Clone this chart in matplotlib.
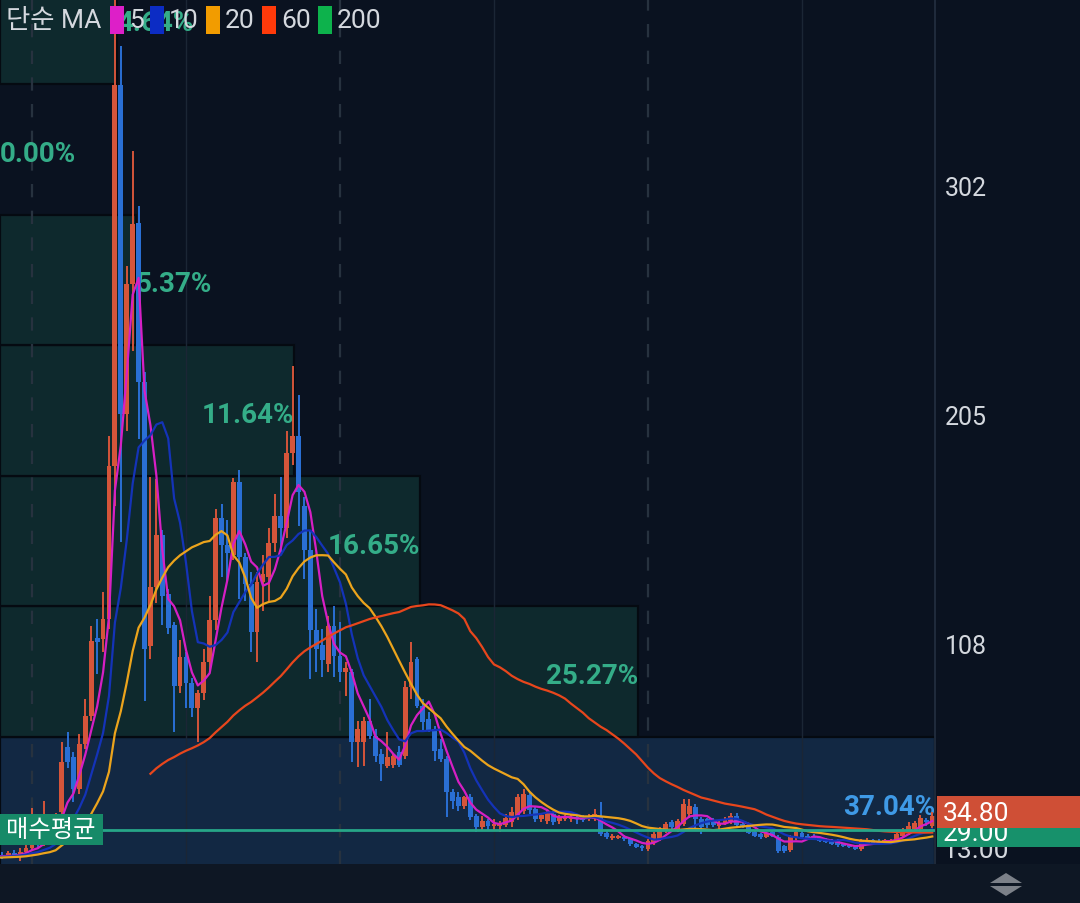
import matplotlib
matplotlib.use("Agg")
import matplotlib.pyplot as plt
import numpy as np
from matplotlib.patches import Rectangle, Polygon

# ---------------- data ----------------
# weekly candles, first visible week 2020-11-30 (index 0)
opens = [18.0, 17.5, 19.0, 18.0, 19.5, 21.0, 24.0, 23.0, 27.0, 26.0,
         36.4, 64.0, 59.7, 46.2, 65.2, 77.1, 110.0, 109.7, 118.2, 183.0,
         344.3, 205.0, 260.0, 286.0, 218.5, 106.7, 131.7, 153.8, 128.8, 115.6,
         89.8, 102.0, 91.0, 80.5, 86.8, 100.0, 117.8, 161.0, 149.5, 145.3,
         176.0, 144.4, 133.0, 112.7, 133.9, 136.0, 150.4, 161.8, 156.7, 188.5,
         195.7, 166.0, 147.4, 113.5, 107.0, 99.1, 115.2, 102.5, 95.7, 95.7,
         66.1, 66.1, 75.0, 68.6, 61.0, 55.9, 56.5, 62.0, 60.2, 89.4,
         101.2, 81.3, 76.0, 71.6, 63.0, 58.9, 45.0, 42.8, 38.9, 42.8,
         34.7, 30.1, 32.6, 30.5, 30.3, 30.9, 32.2, 34.7, 37.0, 43.6,
         37.7, 33.3, 32.6, 35.6, 32.6, 33.5, 33.5, 34.3, 34.0, 33.3,
         33.5, 34.7, 27.5, 25.4, 25.4, 26.0, 25.0, 22.9, 22.0, 20.8,
         23.4, 25.0, 28.4, 32.2, 29.2, 31.3, 35.6, 38.6, 33.5, 33.5,
         33.0, 30.5, 31.3, 32.6, 34.7, 31.3, 30.1, 27.9, 27.0, 25.8,
         27.9, 26.0, 22.0, 20.3, 25.4, 27.5, 26.3, 26.3, 25.4, 25.0,
         24.6, 24.6, 23.0, 22.3, 21.8, 20.8, 23.4, 24.6, 24.2, 23.4,
         23.4, 24.0, 26.3, 27.5, 29.2, 29.2, 33.0, 30.5]
highs = [19.5, 20.0, 20.5, 21.0, 22.5, 38.0, 26.0, 41.0, 29.0, 36.0,
         66.0, 70.3, 62.0, 69.5, 84.3, 115.2, 118.2, 129.6, 195.7, 395.0,
         361.0, 267.7, 316.4, 293.0, 222.8, 178.3, 177.5, 156.0, 131.0, 117.0,
         109.3, 104.0, 93.0, 88.0, 105.5, 128.0, 164.8, 166.9, 160.0, 178.0,
         181.3, 146.0, 138.0, 138.0, 145.3, 156.7, 171.1, 178.3, 197.8, 225.3,
         213.1, 170.0, 155.9, 122.4, 114.0, 119.5, 123.7, 117.0, 100.0, 97.0,
         75.0, 76.7, 84.3, 71.6, 63.0, 70.3, 61.0, 64.4, 92.0, 108.4,
         102.0, 84.3, 78.8, 73.0, 67.4, 60.0, 46.0, 44.9, 43.2, 44.0,
         35.5, 34.7, 33.5, 33.4, 32.6, 35.6, 38.6, 44.0, 46.2, 45.0,
         39.0, 36.0, 37.3, 37.0, 35.0, 35.0, 35.2, 35.0, 35.0, 35.5,
         37.7, 40.7, 28.4, 27.0, 26.8, 26.7, 25.5, 23.2, 22.3, 25.0,
         28.0, 30.0, 32.0, 33.0, 33.5, 41.9, 41.9, 40.0, 34.5, 34.0,
         34.0, 33.0, 34.5, 36.0, 36.0, 32.5, 30.5, 28.4, 27.5, 28.0,
         29.0, 26.8, 22.5, 26.5, 29.0, 28.4, 27.0, 27.0, 26.0, 25.6,
         25.0, 25.0, 23.5, 22.8, 22.2, 25.0, 25.4, 25.2, 25.0, 25.2,
         25.0, 28.0, 29.5, 32.0, 32.6, 35.0, 34.0, 36.5]
lows = [16.5, 16.8, 17.0, 15.6, 18.5, 20.5, 21.0, 22.0, 24.0, 25.0,
        35.0, 55.0, 40.7, 44.0, 63.0, 75.0, 94.9, 104.2, 114.0, 166.0,
        150.8, 197.8, 231.7, 194.4, 83.4, 101.2, 125.0, 115.6, 112.0, 70.3,
        86.8, 80.5, 76.7, 66.1, 84.0, 96.0, 113.5, 136.0, 133.9, 143.0,
        126.6, 126.0, 104.2, 100.0, 121.6, 126.0, 146.6, 146.6, 152.5, 183.4,
        157.6, 135.0, 92.8, 95.7, 93.6, 95.7, 93.6, 91.5, 85.6, 57.6,
        55.5, 55.9, 67.4, 57.6, 49.6, 55.0, 55.0, 55.5, 59.0, 84.3,
        80.5, 70.3, 70.3, 58.0, 57.6, 34.3, 37.7, 36.9, 37.7, 33.0,
        28.0, 28.8, 28.8, 28.4, 28.0, 30.0, 30.0, 33.0, 35.6, 35.6,
        32.0, 32.2, 31.5, 31.0, 31.5, 32.6, 32.2, 31.5, 32.0, 32.6,
        32.6, 26.3, 25.0, 24.6, 24.8, 24.2, 22.0, 21.0, 19.9, 19.9,
        22.5, 24.0, 27.5, 29.0, 28.0, 30.5, 34.0, 29.2, 27.1, 29.5,
        30.0, 29.0, 31.0, 31.5, 30.0, 29.5, 27.0, 25.8, 25.0, 25.4,
        25.8, 19.0, 19.2, 19.6, 24.6, 25.0, 24.6, 24.6, 23.7, 23.4,
        22.5, 21.8, 21.5, 21.0, 20.3, 20.1, 23.0, 22.9, 23.0, 23.0,
        22.9, 23.4, 25.8, 26.8, 28.4, 28.0, 30.5, 29.5]
closes = [17.5, 19.0, 18.0, 19.5, 21.0, 24.0, 23.0, 27.0, 26.0, 34.0,
          57.6, 57.6, 46.2, 65.2, 77.1, 108.8, 108.5, 118.2, 183.0, 344.3,
          205.0, 260.0, 285.5, 218.5, 105.5, 131.7, 153.8, 128.0, 114.4, 89.8,
          102.1, 91.0, 80.5, 86.8, 100.0, 117.8, 161.0, 149.5, 146.0, 176.2,
          144.4, 133.0, 112.7, 133.9, 137.2, 150.4, 161.8, 156.7, 188.5, 195.7,
          172.0, 147.4, 113.5, 105.5, 101.0, 115.2, 102.5, 95.7, 97.4, 66.1,
          71.6, 75.0, 68.6, 60.0, 56.8, 59.7, 60.0, 56.5, 89.4, 100.0,
          81.3, 74.5, 70.8, 62.3, 58.9, 44.9, 41.1, 38.9, 42.8, 34.3,
          30.1, 32.6, 30.5, 31.4, 31.8, 33.9, 36.4, 42.8, 44.0, 37.3,
          33.3, 35.0, 36.4, 32.2, 33.9, 34.3, 34.3, 33.5, 33.0, 34.5,
          35.6, 27.1, 25.8, 26.3, 26.3, 24.8, 22.9, 21.6, 21.1, 24.2,
          27.1, 29.2, 31.3, 30.1, 32.6, 39.8, 38.9, 33.5, 30.1, 31.0,
          31.0, 31.8, 33.5, 34.7, 31.0, 30.5, 27.5, 26.3, 25.8, 27.5,
          26.3, 19.9, 20.1, 25.8, 28.0, 25.8, 25.4, 25.4, 24.2, 23.7,
          23.0, 22.5, 22.0, 21.5, 20.8, 24.2, 24.6, 23.4, 23.4, 24.6,
          24.6, 27.1, 28.4, 30.5, 31.8, 33.9, 32.0, 34.8]
# closes of the 34 weeks before the visible range (only feed the moving averages)
pre_closes = [15.5, 16.0, 15.2, 14.8, 15.6, 16.4, 17.0, 16.2, 15.8, 15.0,
              14.6, 14.2, 13.8, 14.5, 15.3, 16.0, 16.8, 17.5, 16.9, 16.2,
              15.7, 16.3, 17.1, 17.8, 18.2, 17.6, 16.9, 16.5, 17.2, 17.9,
              18.4, 17.8, 17.3, 17.6]
ma_periods = [5, 10, 20, 60, 200]
ma_colors = ["#d61fc4", "#1433b8", "#eca41c", "#e8461c", "#10b04e"]
legend_colors = ["#dd1fc8", "#0c2cc4", "#f29c00", "#ff3a0a", "#0db24c"]

date_ticks = [31, 83, 135]
date_labels = ["2021-07-05", "2022-07-04", "2023-07-03"]
year_lines = [5, 57, 109]
price_ticks = [108, 205, 302]

profile_low, profile_high = 13.0, 400.0
profile_pct = [37.04, 25.27, 16.65, 11.64, 5.37, 0.00, 4.64]

avg_price = 29.0
last_price = 34.80
low_price = 13.00

# ---------------- style ----------------
BG = "#0a1220"
AX_BG = "#0a1220"
BOTTOM_BG = "#0e1724"
UP = "#d5553a"
DOWN = "#2a6fd4"
TEAL_BOX = "#0e292d"
BLUE_BOX = "#122843"
PCT_GREEN = "#34ad88"
PCT_BLUE = "#3f9ae6"
TXT = "#d4d8de"
LAT = ["Roboto", "Noto Sans CJK KR", "DejaVu Sans"]

W, H = 1080, 904
fig = plt.figure(figsize=(W / 100, H / 100), dpi=100)
fig.patch.set_facecolor(BG)

def fx(px):
    return px / W

def fy(py):
    return 1 - py / H

# bottom strip
fig.patches.append(Rectangle((0, 0), 1, 39 / H, transform=fig.transFigure,
                             facecolor=BOTTOM_BG, edgecolor="none", zorder=0))

ax = fig.add_axes([0, 39 / H, 935 / W, 865 / H])
ax.set_facecolor(AX_BG)
xmin, xmax = -0.40, 157.46
ymin, ymax = 14.4, 380.8
ax.set_xlim(xmin, xmax)
ax.set_ylim(ymin, ymax)
for s in ["top", "left", "bottom"]:
    ax.spines[s].set_visible(False)
ax.spines["right"].set_color("#243041")
ax.spines["right"].set_linewidth(1.2)

# price profile boxes
edges = np.linspace(profile_low, profile_high, len(profile_pct) + 1)
pmax = max(profile_pct)
span = xmax - xmin
px_per_x = 935 / span
data_per_px = (ymax - ymin) / 865
for k, pct in enumerate(profile_pct):
    is_max = pct == pmax
    wbox = pct / pmax * span
    if pct > 0:
        ax.add_patch(Rectangle((xmin, edges[k]), wbox, edges[k + 1] - edges[k],
                               facecolor=BLUE_BOX if is_max else TEAL_BOX,
                               edgecolor="#050a11", linewidth=1.6, zorder=0.5))
    xr = xmin + wbox
    ym = (edges[k] + edges[k + 1]) / 2 - 4 * data_per_px
    txt = f"{pct:.2f}%"
    inside = wbox * px_per_x > 200
    ax.text(xr, ym, txt, ha="right" if inside else "left", va="center",
            fontsize=20, fontweight="bold",
            color=PCT_BLUE if is_max else PCT_GREEN, family=LAT, zorder=1)

# grid lines
for xl in year_lines:
    ax.axvline(xl, color="#27323f", lw=1.6, ls=(0, (6, 6)), zorder=0.8)
for xl in date_ticks:
    ax.axvline(xl, color="#1b2635", lw=1.0, zorder=0.8)

# average-buy line
ax.axhline(avg_price, color="#27a688", lw=2.0, zorder=3.5)

# candles
o = np.array(opens); h = np.array(highs); l = np.array(lows); c = np.array(closes)
idx = np.arange(len(c))
cols = [UP if cc >= oo else DOWN for oo, cc in zip(o, c)]
ax.vlines(idx, l, h, colors=cols, linewidth=1.4, zorder=2)
bottoms = np.minimum(o, c)
heights = np.maximum(np.abs(c - o), 0.8)
ax.bar(idx, heights, bottom=bottoms, width=0.82, color=cols, edgecolor="none", zorder=2.1)

# moving averages
allc = np.array(pre_closes + closes)
npre = len(pre_closes)
for per, col in zip(ma_periods, ma_colors):
    if len(allc) < per:
        continue
    ma = np.convolve(allc, np.ones(per) / per, mode="valid")
    start = per - 1 - npre
    xs = np.arange(start, start + len(ma))
    ax.plot(xs, ma, color=col, lw=1.6, zorder=3, solid_joinstyle="round")

# axes ticks
ax.yaxis.tick_right()
ax.set_yticks(price_ticks)
ax.set_yticklabels([str(v) for v in price_ticks], family=LAT)
ax.tick_params(axis="y", length=0, pad=7, labelsize=18, labelcolor=TXT)
ax.set_xticks(date_ticks)
ax.set_xticklabels(date_labels, family=LAT)
ax.tick_params(axis="x", length=0, pad=6, labelsize=18, labelcolor=TXT)

# legend (top-left)
fig.text(fx(6), fy(21), "단순 MA", family=LAT, fontsize=19, color=TXT,
         ha="left", va="center", zorder=10)
leg_x = [110, 150, 206, 262, 318]
for per, col, lx in zip(ma_periods, legend_colors, leg_x):
    fig.patches.append(Rectangle((fx(lx), fy(35)), 14 / W, 28 / H, transform=fig.transFigure,
                                 facecolor=col, edgecolor="none", zorder=10))
    fig.text(fx(lx + 19), fy(21), str(per), family=LAT, fontsize=19, color=TXT,
             ha="left", va="center", zorder=10)

# 매수평균 label
fig.patches.append(Rectangle((0, fy(846)), 103 / W, 31 / H, transform=fig.transFigure,
                             facecolor="#178a68", edgecolor="none", zorder=10))
fig.text(fx(51), fy(830), "매수평균", family=["Noto Sans CJK KR", "DejaVu Sans"],
         fontsize=17.5, color="#ffffff", ha="center", va="center", zorder=11)

# right price labels
fig.text(fx(943), fy(851), f"{low_price:.2f}", family=LAT, fontsize=19, color=TXT,
         ha="left", va="center", zorder=10)
fig.patches.append(Rectangle((fx(937), fy(848)), 143 / W, 20 / H, transform=fig.transFigure,
                             facecolor="#17916b", edgecolor="none", zorder=11))
fig.text(fx(943), fy(834), f"{avg_price:.2f}", family=LAT, fontsize=19, color="#ffffff",
         ha="left", va="center", zorder=12)
fig.patches.append(Rectangle((fx(937), fy(829)), 143 / W, 32 / H, transform=fig.transFigure,
                             facecolor="#cf4f36", edgecolor="none", zorder=13))
fig.text(fx(943), fy(814), f"{last_price:.2f}", family=LAT, fontsize=19, color="#ffffff",
         ha="left", va="center", zorder=14)

# scroll icon
up_tri = Polygon([(fx(990), fy(884)), (fx(1006), fy(874)), (fx(1022), fy(884))],
                 closed=True, transform=fig.transFigure, facecolor="#7c8189", edgecolor="none")
dn_tri = Polygon([(fx(990), fy(887)), (fx(1022), fy(887)), (fx(1006), fy(897))],
                 closed=True, transform=fig.transFigure, facecolor="#7c8189", edgecolor="none")
fig.patches.extend([up_tri, dn_tri])

fig.savefig("out.png", dpi=100, facecolor=fig.get_facecolor())
